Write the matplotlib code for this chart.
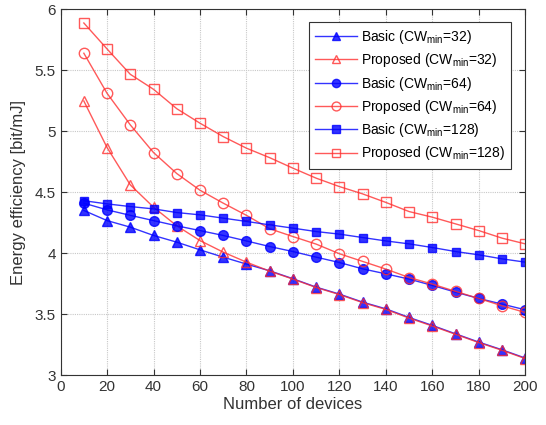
import matplotlib
matplotlib.use("Agg")
import matplotlib.pyplot as plt

plt.rcParams['font.family'] = ['Liberation Sans', 'DejaVu Sans']
plt.rcParams['mathtext.fontset'] = 'custom'
plt.rcParams['mathtext.rm'] = 'Liberation Sans'

devices = [10, 20, 30, 40, 50, 60, 70, 80, 90, 100, 110, 120, 130, 140, 150, 160, 170, 180, 190, 200]

basic_32 = [4.35, 4.267, 4.213, 4.145, 4.09, 4.027, 3.967, 3.91, 3.855, 3.79,
            3.721, 3.664, 3.598, 3.543, 3.472, 3.407, 3.338, 3.27, 3.207, 3.139]
proposed_32 = [5.248, 4.866, 4.56, 4.377, 4.224, 4.103, 4.008, 3.926, 3.852, 3.787,
               3.718, 3.66, 3.594, 3.538, 3.467, 3.402, 3.334, 3.266, 3.203, 3.135]
basic_64 = [4.41, 4.355, 4.31, 4.267, 4.224, 4.185, 4.145, 4.10, 4.054, 4.013,
            3.967, 3.923, 3.871, 3.83, 3.787, 3.735, 3.68, 3.628, 3.582, 3.535]
proposed_64 = [5.64, 5.311, 5.052, 4.825, 4.653, 4.516, 4.41, 4.31, 4.20, 4.136,
               4.074, 3.995, 3.932, 3.869, 3.80, 3.746, 3.686, 3.628, 3.568, 3.513]
basic_128 = [4.43, 4.404, 4.382, 4.363, 4.333, 4.314, 4.287, 4.26, 4.232, 4.205,
             4.177, 4.156, 4.128, 4.10, 4.076, 4.046, 4.013, 3.986, 3.953, 3.926]
proposed_128 = [5.888, 5.675, 5.467, 5.344, 5.185, 5.066, 4.956, 4.861, 4.783, 4.697,
                4.615, 4.546, 4.486, 4.416, 4.341, 4.295, 4.24, 4.185, 4.123, 4.076]

labels = ['Basic (CW$_{\\mathrm{min}}$=32)', 'Proposed (CW$_{\\mathrm{min}}$=32)',
          'Basic (CW$_{\\mathrm{min}}$=64)', 'Proposed (CW$_{\\mathrm{min}}$=64)',
          'Basic (CW$_{\\mathrm{min}}$=128)', 'Proposed (CW$_{\\mathrm{min}}$=128)']

fig = plt.figure(figsize=(5.46, 4.25), dpi=100)
ax = fig.add_axes([0.111, 0.1176, 0.851, 0.8604])

blue = '#0000ff'
red = '#ff3030'
series = [
    (basic_32, dict(color=blue, marker='^', mfc=blue, mec=blue, ms=7)),
    (proposed_32, dict(color=red, marker='^', mfc='none', mec=red, ms=7.5)),
    (basic_64, dict(color=blue, marker='o', mfc=blue, mec=blue, ms=7)),
    (proposed_64, dict(color=red, marker='o', mfc='none', mec=red, ms=7.5)),
    (basic_128, dict(color=blue, marker='s', mfc=blue, mec=blue, ms=6)),
    (proposed_128, dict(color=red, marker='s', mfc='none', mec=red, ms=6.5)),
]
for (vals, kw), lab in zip(series, labels):
    ax.plot(devices, vals, lw=1.0, alpha=0.8, label=lab, **kw)

ax.set_xlim(0, 200)
ax.set_ylim(3, 6)
ax.set_xticks(range(0, 201, 20))
ax.set_yticks([3, 3.5, 4, 4.5, 5, 5.5, 6])
ax.set_yticklabels(['3', '3.5', '4', '4.5', '5', '5.5', '6'])
ax.grid(True, color='#c8c8c8', lw=0.8, ls=(0, (1, 1)))
ax.set_axisbelow(True)
ax.tick_params(direction='in', top=True, right=True, labelsize=11, colors='#333333', length=4)
for sp in ax.spines.values():
    sp.set_color('#333333')
    sp.set_linewidth(0.8)

ax.set_xlabel('Number of devices', fontsize=12, color='#333333', labelpad=2)
ax.set_ylabel('Energy efficiency [bit/mJ]', fontsize=12, color='#333333', labelpad=6)

leg = ax.legend(loc='upper right', bbox_to_anchor=(0.985, 0.985), fontsize=10,
                frameon=True, fancybox=False, edgecolor='#333333', framealpha=1,
                handlelength=3.0, labelspacing=0.38, borderpad=0.45, handletextpad=0.3,
                markerscale=0.85)
leg.get_frame().set_linewidth(0.8)

fig.savefig('out.png', dpi=100)
